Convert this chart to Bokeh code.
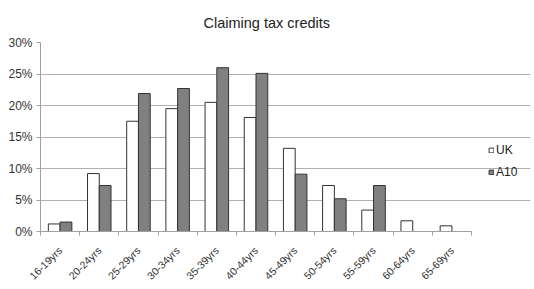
from bokeh.plotting import figure
from bokeh.models import (ColumnDataSource, FixedTicker, NumeralTickFormatter,
                          Legend, LegendItem, Range1d)
from bokeh.embed import file_html
from bokeh.resources import INLINE
import math

categories = ["16-19yrs", "20-24yrs", "25-29yrs", "30-34yrs", "35-39yrs",
              "40-44yrs", "45-49yrs", "50-54yrs", "55-59yrs", "60-64yrs", "65-69yrs"]
uk = [1.2, 9.2, 17.5, 19.5, 20.5, 18.1, 13.2, 7.3, 3.4, 1.7, 0.9]
a10 = [1.5, 7.3, 21.9, 22.7, 26.0, 25.1, 9.1, 5.2, 7.3, 0.0, 0.0]
y_ticks = [0, 0.05, 0.10, 0.15, 0.20, 0.25, 0.30]

n = len(categories)
centers = [i + 0.5 for i in range(n)]
bounds = [float(i) for i in range(n + 1)]
bw = 0.3
src = ColumnDataSource(dict(
    x_uk=[c - bw / 2 for c in centers],
    x_a10=[c + bw / 2 for c in centers],
    uk=[v / 100 for v in uk],
    a10=[v / 100 for v in a10],
))

W, H = 534, 289
left, right_pad = 40, 4
cat_px = 431  # pixel span of the category area
frame_w = W - left - right_pad
x_end = n * frame_w / cat_px

p = figure(width=W, height=H, output_backend="svg", toolbar_location=None,
           x_range=Range1d(0, x_end), y_range=Range1d(0, 0.30),
           min_border_left=left, min_border_right=right_pad, min_border_top=42,
           min_border_bottom=58, outline_line_color=None,
           background_fill_color="white", border_fill_color="white")

p.title.text = "Claiming tax credits"
p.title.align = "left"
p.title.offset = 163
p.title.standoff = 23
p.title.text_font = "Liberation Sans"
p.title.text_font_size = "14.5px"
p.title.text_font_style = "normal"
p.title.text_color = "#222222"

r_uk = p.vbar(x="x_uk", top="uk", width=bw, source=src, fill_color="white",
              line_color="#333333", line_width=1)
r_a10 = p.vbar(x="x_a10", top="a10", width=bw, source=src, fill_color="#808080",
               line_color="#333333", line_width=1)

# axes
xa = p.xaxis[0]
xa.bounds = (0, n)
xa.ticker = FixedTicker(ticks=centers, minor_ticks=bounds)
xa.major_label_overrides = {c: lab for c, lab in zip(centers, categories)}
xa.major_label_orientation = math.pi / 4
xa.major_tick_line_color = None
xa.minor_tick_line_color = "#a0a0a0"
xa.minor_tick_in = 0
xa.minor_tick_out = 4
xa.axis_line_color = "#a0a0a0"
xa.major_label_text_font = "Liberation Sans"
xa.major_label_text_font_size = "10.5px"
xa.major_label_text_color = "#333333"
xa.major_label_standoff = 11

ya = p.yaxis[0]
ya.ticker = FixedTicker(ticks=y_ticks)
ya.formatter = NumeralTickFormatter(format="0%")
ya.major_tick_line_color = "#a0a0a0"
ya.major_tick_in = 0
ya.major_tick_out = 4
ya.minor_tick_line_color = None
ya.axis_line_color = "#a0a0a0"
ya.major_label_text_font = "Liberation Sans"
ya.major_label_text_font_size = "12px"
ya.major_label_text_color = "#333333"
ya.major_label_standoff = 4

p.xgrid.grid_line_color = None
p.ygrid.grid_line_color = "#b0b0b0"
p.ygrid.grid_line_width = 1
p.ygrid.bounds = (0, n)

legend = Legend(items=[LegendItem(label="UK", renderers=[r_uk]),
                       LegendItem(label="A10", renderers=[r_a10])],
                location=(448, 52), border_line_color=None,
                background_fill_alpha=0, padding=0, margin=0,
                glyph_width=6, glyph_height=6, label_standoff=2,
                spacing=8, label_height=14,
                label_text_font="Liberation Sans", label_text_font_size="12px",
                label_text_color="#222222")
p.add_layout(legend)

open("out.html", "w").write(file_html(p, INLINE))
